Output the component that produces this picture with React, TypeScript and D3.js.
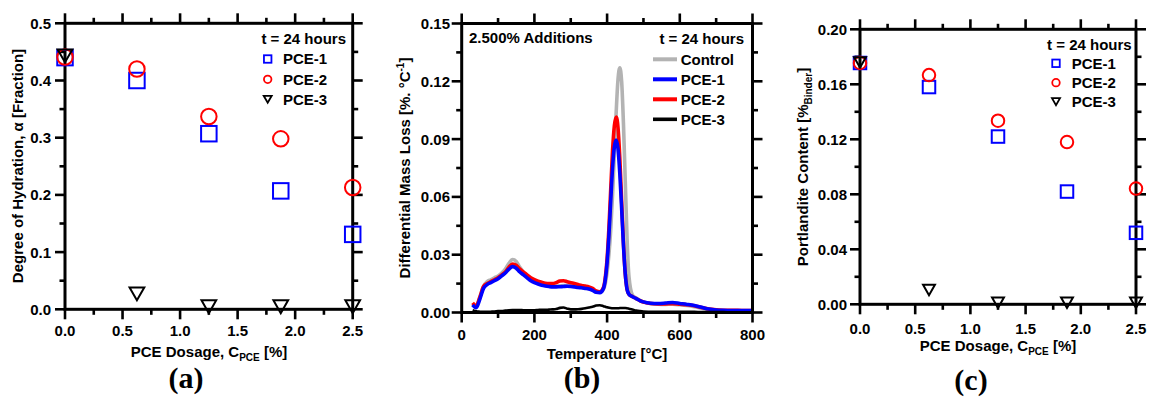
import React from 'react';
import * as d3 from 'd3';

// ---------- Data ----------
const dosage = [0, 0.625, 1.25, 1.875, 2.5];
const hydPCE1 = [0.44, 0.4, 0.307, 0.207, 0.131];
const hydPCE2 = [0.441, 0.42, 0.337, 0.298, 0.213];
const hydPCE3 = [0.443, 0.027, 0.0045, 0.0045, 0.0045];

const chPCE1 = [0.1755, 0.158, 0.122, 0.082, 0.052];
const chPCE2 = [0.1755, 0.1667, 0.1335, 0.118, 0.0842];
const chPCE3 = [0.176, 0.0104, 0.0011, 0.0011, 0.0011];

const temps = [30, 40, 50, 60, 70, 80, 90, 100, 110, 120, 130, 140, 150, 160, 170, 180, 190, 200, 210, 220, 230, 240, 250, 260, 270, 280, 290, 300, 310, 320, 330, 340, 350, 360, 370, 380, 390, 395, 400, 405, 410, 415, 420, 425, 430, 435, 440, 445, 450, 455, 460, 470, 480, 490, 500, 520, 540, 560, 580, 600, 620, 640, 660, 680, 700, 720, 740, 760, 780, 800];
const dtgControl = [0.004, 0.003, 0.008, 0.0135, 0.016, 0.017, 0.018, 0.019, 0.0205, 0.0225, 0.0255, 0.0275, 0.0265, 0.0235, 0.021, 0.019, 0.0172, 0.016, 0.0152, 0.0146, 0.0141, 0.0138, 0.0136, 0.0137, 0.0138, 0.014, 0.014, 0.014, 0.0137, 0.0134, 0.013, 0.0127, 0.0123, 0.0117, 0.0108, 0.0105, 0.012, 0.015, 0.021, 0.03, 0.043, 0.061, 0.082, 0.104, 0.121, 0.127, 0.12, 0.098, 0.068, 0.038, 0.019, 0.009, 0.0075, 0.0063, 0.0055, 0.0046, 0.0043, 0.0042, 0.0043, 0.004, 0.0036, 0.003, 0.0022, 0.0015, 0.0011, 0.0009, 0.0008, 0.0008, 0.0008, 0.0008];
const dtgPCE1 = [0.004, 0.0025, 0.007, 0.0125, 0.0145, 0.0155, 0.0165, 0.0175, 0.019, 0.0205, 0.0225, 0.0238, 0.023, 0.021, 0.0195, 0.018, 0.0165, 0.0155, 0.0148, 0.0142, 0.0138, 0.0135, 0.0133, 0.0133, 0.0134, 0.0135, 0.0136, 0.0135, 0.0133, 0.013, 0.0128, 0.0125, 0.0122, 0.0115, 0.0105, 0.0103, 0.0125, 0.017, 0.026, 0.04, 0.058, 0.075, 0.086, 0.0895, 0.085, 0.072, 0.054, 0.035, 0.02, 0.012, 0.0095, 0.0082, 0.0072, 0.0062, 0.0055, 0.0048, 0.0047, 0.0049, 0.0052, 0.0047, 0.0042, 0.0036, 0.0027, 0.0018, 0.0013, 0.0011, 0.001, 0.001, 0.001, 0.001];
const dtgPCE2 = [0.005, 0.0035, 0.008, 0.0135, 0.015, 0.016, 0.017, 0.018, 0.0195, 0.021, 0.0235, 0.0252, 0.0245, 0.0225, 0.021, 0.0195, 0.018, 0.017, 0.0163, 0.0157, 0.0152, 0.015, 0.015, 0.0155, 0.0163, 0.0165, 0.016, 0.0155, 0.015, 0.0145, 0.014, 0.0137, 0.0133, 0.0125, 0.0112, 0.0108, 0.013, 0.018, 0.028, 0.044, 0.064, 0.084, 0.097, 0.1015, 0.096, 0.08, 0.058, 0.036, 0.02, 0.012, 0.0095, 0.0082, 0.0072, 0.0062, 0.0054, 0.0047, 0.0045, 0.0045, 0.0046, 0.0043, 0.004, 0.0035, 0.0026, 0.0018, 0.0014, 0.0012, 0.0011, 0.0011, 0.001, 0.001];
const dtgPCE3 = [0.0012, 0.0006, 0.0004, 0.0003, 0.0003, 0.0004, 0.0005, 0.0007, 0.0008, 0.001, 0.0012, 0.0013, 0.0013, 0.0013, 0.0012, 0.0012, 0.0012, 0.0012, 0.0013, 0.0014, 0.0014, 0.0015, 0.0016, 0.0018, 0.0024, 0.0026, 0.002, 0.0016, 0.0016, 0.0017, 0.0019, 0.0022, 0.0026, 0.003, 0.0036, 0.0038, 0.0033, 0.003, 0.0027, 0.0025, 0.0023, 0.0022, 0.0022, 0.0022, 0.0022, 0.0023, 0.0023, 0.0023, 0.0023, 0.0022, 0.002, 0.0015, 0.001, 0.0007, 0.0005, 0.0004, 0.0003, 0.0003, 0.0003, 0.0003, 0.0003, 0.0003, 0.0002, 0.0002, 0.0002, 0.0002, 0.0001, 0.0001, 0.0001, 0.0001];

const dosageMajor = [0, 0.5, 1.0, 1.5, 2.0, 2.5];
const dosageMinor = [0.25, 0.75, 1.25, 1.75, 2.25];
const hydMajor = [0, 0.1, 0.2, 0.3, 0.4, 0.5];
const hydMinor = [0.05, 0.15, 0.25, 0.35, 0.45];
const tempMajor = [0, 200, 400, 600, 800];
const tempMinor = [100, 300, 500, 700];
const dtgMajor = [0, 0.03, 0.06, 0.09, 0.12, 0.15];
const dtgMinor = [0.015, 0.045, 0.075, 0.105, 0.135];
const chMajor = [0, 0.04, 0.08, 0.12, 0.16, 0.2];
const chMinor = [0.02, 0.06, 0.1, 0.14, 0.18];

const scatterNames = ['PCE-1', 'PCE-2', 'PCE-3'];
const lineNames = ['Control', 'PCE-1', 'PCE-2', 'PCE-3'];

const BLUE = '#0000ff';
const RED = '#ff0000';
const BLACK = '#000000';
const GRAY = '#b3b3b3';
const FONT = '"Liberation Sans", Arial, sans-serif';
const SERIF = '"Liberation Serif", "Times New Roman", serif';

// ---------- Helpers ----------
type Lin = d3.ScaleLinear<number, number>;

function Frame({ xs, ys, xMaj, xMin, yMaj, yMin }: { xs: Lin; ys: Lin; xMaj: number[]; xMin: number[]; yMaj: number[]; yMin: number[] }) {
  const [xa, xb] = xs.range();
  const [yb, ya] = ys.range();
  const M = 10, m = 5.5, sw = 2.6;
  const els: React.ReactNode[] = [];
  xMaj.forEach((v, i) => {
    const x = xs(v);
    els.push(<line key={'xb' + i} x1={x} x2={x} y1={yb} y2={yb + M} />);
    els.push(<line key={'xt' + i} x1={x} x2={x} y1={ya} y2={ya - M} />);
  });
  xMin.forEach((v, i) => {
    const x = xs(v);
    els.push(<line key={'xbm' + i} x1={x} x2={x} y1={yb} y2={yb + m} />);
    els.push(<line key={'xtm' + i} x1={x} x2={x} y1={ya} y2={ya - m} />);
  });
  yMaj.forEach((v, i) => {
    const y = ys(v);
    els.push(<line key={'yl' + i} x1={xa} x2={xa - M} y1={y} y2={y} />);
    els.push(<line key={'yr' + i} x1={xb} x2={xb + M} y1={y} y2={y} />);
  });
  yMin.forEach((v, i) => {
    const y = ys(v);
    els.push(<line key={'ylm' + i} x1={xa} x2={xa - m} y1={y} y2={y} />);
    els.push(<line key={'yrm' + i} x1={xb} x2={xb + m} y1={y} y2={y} />);
  });
  return (
    <g stroke="#000" strokeWidth={sw} fill="none">
      {els}
      <rect x={xa} y={ya} width={xb - xa} height={yb - ya} strokeWidth={3} />
    </g>
  );
}

function Marker({ kind, cx, cy, s, color, sw }: { kind: number; cx: number; cy: number; s: number; color: string; sw: number }) {
  if (kind === 0) {
    return <rect x={cx - s / 2} y={cy - s / 2} width={s} height={s} fill="none" stroke={color} strokeWidth={sw} />;
  }
  if (kind === 1) {
    return <circle cx={cx} cy={cy} r={s / 2} fill="none" stroke={color} strokeWidth={sw} />;
  }
  const w = s, h = s * 0.87;
  const p = `M${cx - w / 2},${cy - h / 2}L${cx + w / 2},${cy - h / 2}L${cx},${cy + h / 2}Z`;
  return <path d={p} fill="none" stroke={color} strokeWidth={sw} strokeLinejoin="miter" />;
}

const markerColors = [BLUE, RED, BLACK];

function ScatterPanel(props: {
  xs: Lin; ys: Lin; yMaj: number[]; yMin: number[]; yFmt: (v: number) => string;
  series: number[][]; ms: number; yLabelX: number; xLabelY: number;
  legHeadX: number; legHeadY: number; legMarkX: number; legTextX: number; legRows: number[];
  xTitleX: number; xTitleY: number; yTitle: React.ReactNode; yTitleX: number; yTitleY: number;
  tag: string; tagX: number; tagY: number;
}) {
  const { xs, ys } = props;
  return (
    <g>
      <Frame xs={xs} ys={ys} xMaj={dosageMajor} xMin={dosageMinor} yMaj={props.yMaj} yMin={props.yMin} />
      {props.series.map((ser, k) => (
        <g key={k}>
          {ser.map((v, i) => (
            <Marker key={i} kind={k} cx={xs(dosage[i])} cy={ys(v)} s={k === 2 ? props.ms * 0.95 : props.ms} color={markerColors[k]} sw={2} />
          ))}
        </g>
      ))}
      <g fontFamily={FONT} fontWeight="bold" fontSize={15} fill="#000">
        {dosageMajor.map((v, i) => (
          <text key={'xl' + i} x={xs(v)} y={props.xLabelY} textAnchor="middle">{d3.format('.1f')(v)}</text>
        ))}
        {props.yMaj.map((v, i) => (
          <text key={'yl' + i} x={props.yLabelX} y={ys(v)} dy="0.36em" textAnchor="end">{props.yFmt(v)}</text>
        ))}
        <text x={props.legHeadX} y={props.legHeadY} textAnchor="end">t = 24 hours</text>
        {scatterNames.map((n, k) => (
          <text key={'ln' + k} x={props.legTextX} y={props.legRows[k] + 5.4}>{n}</text>
        ))}
        <text x={props.xTitleX} y={props.xTitleY} textAnchor="middle">
          PCE Dosage, C<tspan fontSize={10} dy={4}>PCE</tspan><tspan dy={-4}> [%]</tspan>
        </text>
        <text transform={`translate(${props.yTitleX},${props.yTitleY}) rotate(-90)`} textAnchor="middle" dy="0.36em">
          {props.yTitle}
        </text>
      </g>
      {scatterNames.map((n, k) => (
        <Marker key={'lm' + k} kind={k} cx={props.legMarkX} cy={props.legRows[k]} s={k === 2 ? 8 : 7.5} color={markerColors[k]} sw={1.8} />
      ))}
      <text x={props.tagX} y={props.tagY} textAnchor="middle" fontFamily={SERIF} fontWeight="bold" fontSize={30}>{props.tag}</text>
    </g>
  );
}

export default function App() {
  const xA = d3.scaleLinear([0, 2.5], [65, 352.7]);
  const yA = d3.scaleLinear([0, 0.5], [309.3, 23.3]);
  const xB = d3.scaleLinear([0, 800], [461.7, 752.5]);
  const yB = d3.scaleLinear([0, 0.15], [312.5, 23.5]);
  const xC = d3.scaleLinear([0, 2.5], [860, 1136]);
  const yC = d3.scaleLinear([0, 0.2], [304.3, 29.3]);

  const line = d3.line<number>()
    .x((_, i) => xB(temps[i]))
    .y((v) => yB(v))
    .curve(d3.curveMonotoneX);

  const curves = [
    { name: 'Control', vals: dtgControl, color: GRAY, w: 3.6 },
    { name: 'PCE-2', vals: dtgPCE2, color: RED, w: 3.6 },
    { name: 'PCE-1', vals: dtgPCE1, color: BLUE, w: 3.6 },
    { name: 'PCE-3', vals: dtgPCE3, color: BLACK, w: 2.6 },
  ];
  const legColors: Record<string, string> = { Control: GRAY, 'PCE-1': BLUE, 'PCE-2': RED, 'PCE-3': BLACK };
  const legRowsB = [59.3, 79.3, 99.3, 119.3];

  return (
    <svg width={1149} height={397} style={{ position: 'absolute', left: 0, top: 0, background: '#fff' }}>
      <rect x={0} y={0} width={1149} height={397} fill="#fff" />
      {/* Panel (a) */}
      <ScatterPanel
        xs={xA} ys={yA} yMaj={hydMajor} yMin={hydMinor} yFmt={d3.format('.1f')}
        series={[hydPCE1, hydPCE2, hydPCE3]} ms={15.5} yLabelX={51} xLabelY={335.5}
        legHeadX={346} legHeadY={44} legMarkX={267.7} legTextX={283} legRows={[59, 79.3, 99.3]}
        xTitleX={209} xTitleY={356.5}
        yTitle={<>Degree of Hydration, α [Fraction]</>} yTitleX={18} yTitleY={166}
        tag="(a)" tagX={186} tagY={387.5}
      />
      {/* Panel (b) */}
      <g>
        <defs>
          <clipPath id="clipB">
            <rect x={xB.range()[0]} y={yB.range()[1]} width={xB.range()[1] - xB.range()[0]} height={yB.range()[0] - yB.range()[1]} />
          </clipPath>
        </defs>
        <g clipPath="url(#clipB)">
          {curves.map((c) => (
            <path key={c.name} d={line(c.vals) || ''} fill="none" stroke={c.color} strokeWidth={c.w} strokeLinejoin="round" />
          ))}
        </g>
        <Frame xs={xB} ys={yB} xMaj={tempMajor} xMin={tempMinor} yMaj={dtgMajor} yMin={dtgMinor} />
        <g fontFamily={FONT} fontWeight="bold" fontSize={15} fill="#000">
          {tempMajor.map((v, i) => (
            <text key={'xl' + i} x={xB(v)} y={340} textAnchor="middle">{v}</text>
          ))}
          {dtgMajor.map((v, i) => (
            <text key={'yl' + i} x={450} y={yB(v)} dy="0.36em" textAnchor="end">{d3.format('.2f')(v)}</text>
          ))}
          <text x={469} y={42.7}>2.500% Additions</text>
          <text x={744} y={44}>
            <tspan textAnchor="end">t = 24 hours</tspan>
          </text>
          {lineNames.map((n, k) => (
            <text key={'lt' + k} x={680.7} y={legRowsB[k] + 5.4}>{n}</text>
          ))}
          <text x={607} y={358.5} textAnchor="middle">Temperature [°C]</text>
          <text transform={`translate(405,168) rotate(-90)`} textAnchor="middle" dy="0.36em">
            Differential Mass Loss [%. °C<tspan fontSize={10} dy={-6}>-1</tspan><tspan dy={6}>]</tspan>
          </text>
        </g>
        {lineNames.map((n, k) => (
          <line key={'ll' + k} x1={653} x2={677} y1={legRowsB[k]} y2={legRowsB[k]} stroke={legColors[n]} strokeWidth={n === 'PCE-3' ? 3.6 : 4} />
        ))}
        <text x={582} y={387.5} textAnchor="middle" fontFamily={SERIF} fontWeight="bold" fontSize={30}>(b)</text>
      </g>
      {/* Panel (c) */}
      <ScatterPanel
        xs={xC} ys={yC} yMaj={chMajor} yMin={chMinor} yFmt={d3.format('.2f')}
        series={[chPCE1, chPCE2, chPCE3]} ms={12.5} yLabelX={847} xLabelY={334}
        legHeadX={1131.7} legHeadY={49.5} legMarkX={1056} legTextX={1071.7} legRows={[63.3, 82.7, 101.7]}
        xTitleX={998} xTitleY={351}
        yTitle={<>Portlandite Content [%<tspan fontSize={10} dy={4}>Binder</tspan><tspan dy={-4}>]</tspan></>} yTitleX={803} yTitleY={167}
        tag="(c)" tagX={971} tagY={390}
      />
    </svg>
  );
}
